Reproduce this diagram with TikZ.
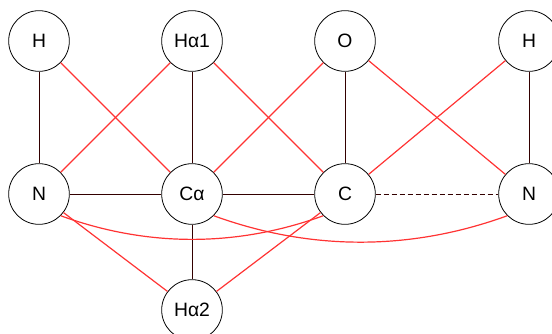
\documentclass[tikz,border=0pt]{standalone}
\usepackage{fontspec}
\setmainfont{Liberation Sans}
\definecolor{bondcol}{HTML}{330000}
\definecolor{linkcol}{HTML}{FF3333}

\begin{document}
\begin{tikzpicture}[x=0.75pt,y=-0.75pt,
	atom/.style={circle,draw=black,line width=0.6pt,minimum size=45.5pt,inner sep=0pt,font=\fontsize{14.5}{16}\selectfont},
	bond/.style={draw=bondcol,line width=0.75pt},
	link/.style={draw=linkcol,line width=0.9pt}]
\useasboundingbox (0,0) rectangle (552,333);

\node[atom] (hL) at (39,41) {H};
\node[atom] (ha1) at (192,41) {Hα1};
\node[atom] (o) at (345,41) {O};
\node[atom] (hR) at (529,41) {H};
\node[atom] (nL) at (39,194) {N};
\node[atom] (ca) at (192,194) {Cα};
\node[atom] (c) at (345,194) {C};
\node[atom] (nR) at (529,194) {N};
\node[atom] (ha2) at (192,310) {Hα2};

% covalent bonds
\draw[bond] (hL) -- (nL);
\draw[bond] (ha1) -- (ca);
\draw[bond] (o) -- (c);
\draw[bond] (hR) -- (nR);
\draw[bond] (nL) -- (ca);
\draw[bond] (ca) -- (c);
\draw[bond] (ca) -- (ha2);
\draw[bond,dash pattern=on 3.75pt off 2.25pt] (c) -- (nR);

% red links
\draw[link] (hL) -- (ca);
\draw[link] (ha1) -- (nL);
\draw[link] (ha1) -- (c);
\draw[link] (o) -- (ca);
\draw[link] (o) -- (nR);
\draw[link] (hR) -- (c);
\draw[link] (nL) -- (ha2);
\draw[link] (c) -- (ha2);
\draw[link] (nL.-45) to[out=-20,in=-160,looseness=0.9] (c.-135);
\draw[link] (ca.-45) to[out=-20,in=-160,looseness=0.9] (nR.-135);
\end{tikzpicture}
\end{document}
